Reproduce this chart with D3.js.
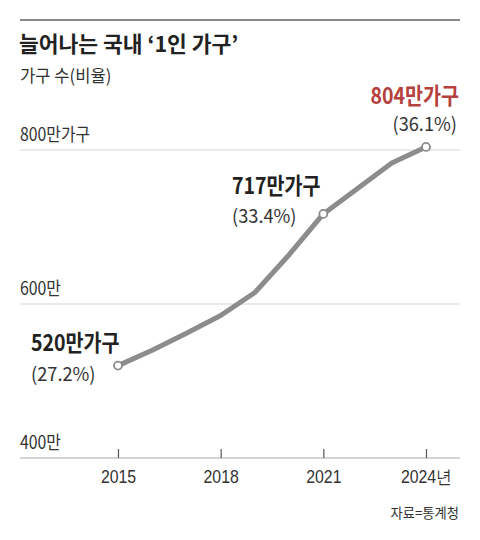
<!DOCTYPE html>
<html>
<head>
<meta charset="utf-8">
<style>
  body { margin: 0; background: #fff; }
  #chart { font-family: 'Noto Sans CJK KR', 'Noto Sans', sans-serif; }
</style>
</head>
<body>
<div id="chart"></div>
<script src="https://d3js.org/d3.v7.min.js"></script>
<script>
  // 1인 가구 수 (만 가구)
  var years = [2015, 2016, 2017, 2018, 2019, 2020, 2021, 2022, 2023, 2024];
  var households = [520, 540, 562, 585, 615, 664, 717, 750, 783, 804];
  var yTicks = [400, 600, 800];
  var yTickLabels = ["400만", "600만", "800만가구"];
  var xTicks = [2015, 2018, 2021, 2024];
  var xTickLabels = ["2015", "2018", "2021", "2024년"];
  var marked = [2015, 2021, 2024];
  var markLabels = ["520만가구", "717만가구", "804만가구"];
  var markShares = ["(27.2%)", "(33.4%)", "(36.1%)"];

  var width = 480, height = 540;
  var svg = d3.select("#chart").append("svg")
    .attr("width", width).attr("height", height);

  var x = d3.scaleLinear().domain([2015, 2024]).range([118, 426]);
  var y = d3.scaleLinear().domain([400, 800]).range([458, 150]);

  // narrow text, like the condensed newspaper face
  function narrow(g, tx, ty, size, sx) {
    return g.append("text")
      .attr("transform", "translate(" + tx + "," + ty + ") scale(" + sx + ",1)")
      .attr("font-size", size);
  }

  // top rule + titles
  svg.append("line").attr("x1", 20).attr("x2", 460).attr("y1", 20).attr("y2", 20)
    .attr("stroke", "#8a8a8a").attr("stroke-width", 2);
  svg.append("text").attr("x", 19).attr("y", 52)
    .attr("font-size", 21.5).attr("font-weight", "bold").attr("fill", "#222")
    .text("늘어나는 국내 ‘1인 가구’");
  narrow(svg, 20, 82, 17.5, 0.95).attr("fill", "#333").text("가구 수(비율)");

  // grid
  svg.selectAll(".grid").data(yTicks).enter().append("line")
    .attr("x1", 20).attr("x2", 460)
    .attr("y1", function(d) { return y(d); }).attr("y2", function(d) { return y(d); })
    .attr("stroke", function(d) { return d === 400 ? "#aaa" : "#d4d4d4"; })
    .attr("stroke-width", 1.2);
  yTicks.forEach(function(d, i) {
    narrow(svg, 20, y(d) - 9, 18, 0.88).attr("fill", "#333").text(yTickLabels[i]);
  });

  // x axis
  var xAxis = d3.axisBottom(x).tickValues(xTicks).tickSize(0).tickFormat("");
  var gx = svg.append("g").attr("transform", "translate(0," + y(400) + ")").call(xAxis);
  gx.select(".domain").remove();
  gx.selectAll(".tick").append("line").attr("y1", -9).attr("y2", 0)
    .attr("stroke", "#555").attr("stroke-width", 1.2);
  gx.selectAll(".tick").each(function(d, i) {
    narrow(d3.select(this), 0, 25, 18, 0.88)
      .attr("text-anchor", "middle").attr("fill", "#333").text(xTickLabels[i]);
  });

  // line
  var pts = years.map(function(d, i) { return [d, households[i]]; });
  svg.append("path").datum(pts)
    .attr("d", d3.line().x(function(d) { return x(d[0]); }).y(function(d) { return y(d[1]); }))
    .attr("fill", "none").attr("stroke", "#8c8c8c").attr("stroke-width", 5)
    .attr("stroke-linejoin", "round");

  svg.selectAll(".dot").data(marked).enter().append("circle")
    .attr("cx", function(d) { return x(d); })
    .attr("cy", function(d) { return y(households[years.indexOf(d)]); })
    .attr("r", 4).attr("fill", "#fff").attr("stroke", "#8c8c8c").attr("stroke-width", 1.8);

  // annotations
  var ann = [
    { x: 31, y1: 351, y2: 381, anchor: "start", color: "#222" },
    { x: 232, y1: 194, y2: 223, anchor: "start", color: "#222" },
    { x: 459, y1: 104, y2: 131, anchor: "end", color: "#b5403d" }
  ];
  ann.forEach(function(a, i) {
    narrow(svg, a.x, a.y1, 23, 0.85).attr("text-anchor", a.anchor)
      .attr("font-weight", "bold").attr("fill", a.color).text(markLabels[i]);
    narrow(svg, a.anchor === "end" ? a.x - 2 : a.x, a.y2, 19, 0.96)
      .attr("text-anchor", a.anchor).attr("fill", "#333").text(markShares[i]);
  });

  // source
  svg.append("text").attr("x", 459).attr("y", 518).attr("text-anchor", "end")
    .attr("font-size", 13.3).attr("fill", "#333").text("자료=통계청");
</script>
</body>
</html>
